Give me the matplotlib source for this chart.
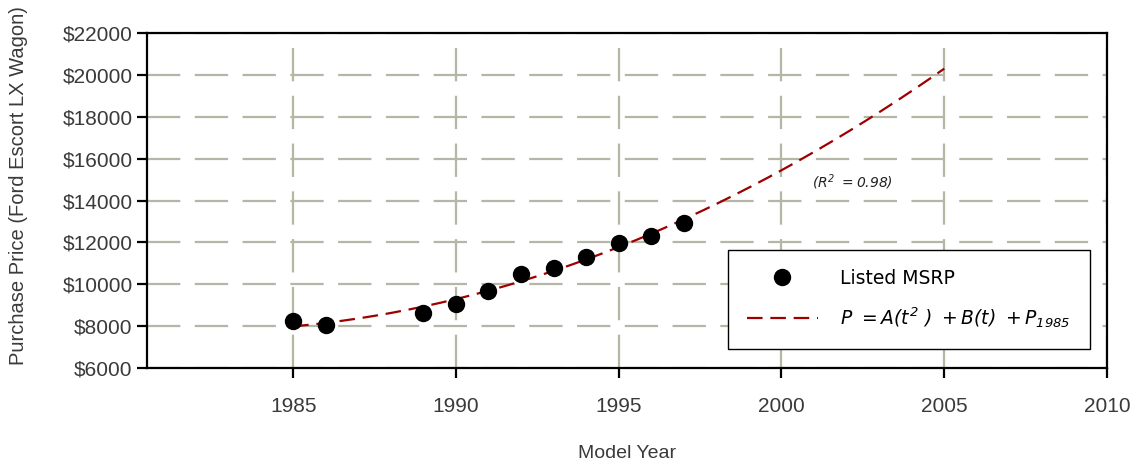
import numpy as np
import matplotlib
matplotlib.use("Agg")
import matplotlib.pyplot as plt

plt.rcParams['font.family'] = ['Liberation Sans', 'DejaVu Sans']
plt.rcParams['mathtext.fontset'] = 'custom'
plt.rcParams['mathtext.rm'] = 'DejaVu Sans:italic'
plt.rcParams['mathtext.it'] = 'DejaVu Sans:italic'

# Listed MSRP by model year
years = [1985, 1986, 1989, 1990, 1991, 1992, 1993, 1994, 1995, 1996, 1997]
msrp = [8220, 8030, 8610, 9060, 9650, 10470, 10750, 11280, 11950, 12320, 12920]

xticks = [1985, 1990, 1995, 2000, 2005, 2010]
yticks = [6000, 8000, 10000, 12000, 14000, 16000, 18000, 20000, 22000]
r_squared = 0.98
fit_end = 2005

grid_col = '#b6b6a6'
text_col = '#3a3a3a'

# quadratic in years since 1985: P = A t^2 + B t + P1985
t = np.array(years) - 1985.
A, B, P1985 = np.polyfit(t, msrp, 2)
tf = np.linspace(0, fit_end - 1985, 200)
pf = A * tf**2 + B * tf + P1985

fig = plt.figure(figsize=(11.36, 4.66), dpi=100)
ax = fig.add_axes([0.1291, 0.2109, 0.8454, 0.7176])

ax.plot(tf + 1985, pf, color='#9e0000', lw=1.6, dashes=(7, 3.5),
        label=r'$P\ = A(t^2\ )\ + B(t)\ + P_{1985}$', zorder=3)
ax.plot(years, msrp, 'o', color='black', markersize=11.5, ls='none',
        label='Listed MSRP', zorder=4)

ax.set_xlim(1980.5, 2010)
ax.set_ylim(6000, 22000)
ax.set_xticks(xticks)
ax.set_yticks(yticks)
ax.set_yticklabels(['${}'.format(v) for v in yticks])

ax.grid(True, color=grid_col, lw=1.6, dashes=(15, 6.5))
ax.set_axisbelow(True)

for s in ax.spines.values():
    s.set_linewidth(1.6)
    s.set_color('black')
ax.tick_params(direction='out', length=7, width=1.6, colors='black',
               labelcolor=text_col, labelsize=15, top=False, right=False)
ax.tick_params(axis='x', pad=14)
ax.tick_params(axis='y', pad=3)

ax.set_xlabel('Model Year', fontsize=14, color=text_col)
ax.xaxis.set_label_coords(0.5, -0.232)
ax.set_ylabel('Purchase Price (Ford Escort LX Wagon)', fontsize=14.5, color=text_col)
ax.yaxis.set_label_coords(-0.124, 0.545)

ax.text(0.7345, 0.555, r'$(R^2\ = {:.2f})$'.format(r_squared), transform=ax.transAxes,
        ha='center', va='center', fontsize=10, color='#222222')

handles, labels = ax.get_legend_handles_labels()
leg = ax.legend(handles[::-1], labels[::-1], loc='lower right',
                bbox_to_anchor=(0.982, 0.056), borderaxespad=0,
                fontsize=13.5, frameon=True, fancybox=False, framealpha=1,
                edgecolor='black', borderpad=1.0, labelspacing=0.95,
                handlelength=3.8, handletextpad=1.2, numpoints=1)
leg.get_frame().set_linewidth(1.0)
leg.texts[0].set_fontfamily('DejaVu Sans')

fig.savefig('out.png', dpi=100)
